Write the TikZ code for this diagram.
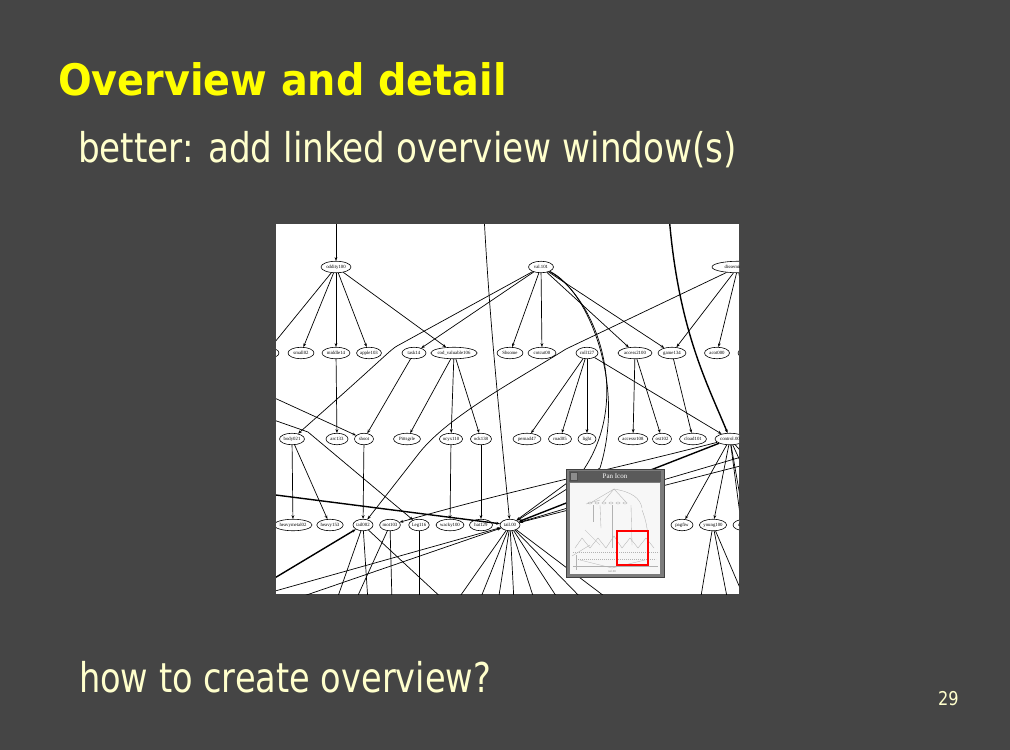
\documentclass[tikz,border=0pt]{standalone}
\usepackage{fontspec}
\setmainfont{DejaVu Sans}
\newfontfamily\gfont{Liberation Serif}
\usetikzlibrary{shapes.geometric,arrows.meta}
\definecolor{bg}{HTML}{454545}
\definecolor{ttl}{HTML}{FFFF00}
\definecolor{bodytxt}{HTML}{FFFFCC}
\definecolor{frame}{HTML}{7C7C7C}
\definecolor{tbar}{HTML}{5A5A5A}
\begin{document}
\begin{tikzpicture}[x=1pt,y=-1pt,
  txt/.style={anchor=base west, inner sep=0pt, outer sep=0pt},
  gn/.style={ellipse, draw, line width=0.6pt, minimum height=11.5pt, inner sep=0pt, fill=white,
             font=\gfont\fontsize{4.8}{5}\selectfont},
  e/.style={draw, line width=0.7pt, -{Stealth[length=3.8pt,width=2.8pt]}},
  ethick/.style={e, line width=1.4pt},
  mini/.style={draw=black!30, line width=0.35pt}]
\fill[bg] (0,0) rectangle (1010,750);
\useasboundingbox (0,0) rectangle (1010,750);

% texts
\node[txt, text=ttl] (title) at (58,95)
  {\scalebox{0.915}[1]{\fontsize{43.4}{50}\selectfont\bfseries Overview and detail}};
\node[txt, text=bodytxt] (sub) at (78,162)
  {\scalebox{0.835}[1]{\fontsize{41}{48}\selectfont better: add linked overview window(s)}};
\node[txt, text=bodytxt] (how) at (79,692)
  {\scalebox{0.82}[1]{\fontsize{41}{48}\selectfont how to create overview?}};
\node[txt, text=bodytxt] (pg) at (938,705)
  {\scalebox{0.85}[1]{\fontsize{19}{22}\selectfont 29}};

% graph picture
\fill[white] (276,224) rectangle (739,594);
\begin{scope}
\clip (276,224) rectangle (739,594);
% row 1
\node[gn, minimum width=30] (odd) at (336,267) {oddity100};
\node[gn, minimum width=25] (vol) at (541,267) {val.101};
\node[gn, minimum width=52] (dis) at (738,267) {dissemination};
% row 2
\node[gn, minimum width=26] (b0) at (266,353) {task112};
\node[gn, minimum width=26] (b1) at (301,353) {small02};
\node[gn, minimum width=28] (b2) at (336,353) {middle14};
\node[gn, minimum width=24] (b3) at (369,353) {apple103};
\node[gn, minimum width=24] (b4) at (414,353) {task14};
\node[gn, minimum width=41] (b5) at (454,353) {cod\_valuable106};
\node[gn, minimum width=26] (b6) at (510,353) {Shsome};
\node[gn, minimum width=28] (b7) at (542,353) {cotcut00};
\node[gn, minimum width=22] (b8) at (587,353) {coll127};
\node[gn, minimum width=34] (b9) at (635,353) {access2100};
\node[gn, minimum width=28] (b10) at (672,353) {game134};
\node[gn, minimum width=25] (b11) at (717,353) {acot000};
\node[gn, minimum width=26] (b12) at (751,353) {aaa12};
% row 3
\node[gn, minimum width=25] (c1) at (292,439) {body021};
\node[gn, minimum width=22] (c2) at (337,439) {arc133};
\node[gn, minimum width=19] (c3) at (364,439) {shoot};
\node[gn, minimum width=27] (c4) at (407,439) {Pittsgrle};
\node[gn, minimum width=22] (c5) at (451,439) {ocyx110};
\node[gn, minimum width=21] (c6) at (481,439) {ock138};
\node[gn, minimum width=28] (c7) at (527,439) {pernad47};
\node[gn, minimum width=23] (c8) at (560,439) {road05};
\node[gn, minimum width=18] (c9) at (587,439) {light};
\node[gn, minimum width=28] (c10) at (633,439) {accessr108};
\node[gn, minimum width=19] (c11) at (662,439) {ost102};
\node[gn, minimum width=27] (c12) at (693,439) {cload101};
\node[gn, minimum width=30] (c13) at (730,439) {control.00};
% row 4
\node[gn, minimum width=31] (d1) at (293,525) {heavymetal02};
\node[gn, minimum width=25] (d2) at (330,525) {heavy153};
\node[gn, minimum width=20] (d3) at (363,525) {tail002};
\node[gn, minimum width=20] (d4) at (390,525) {mot103};
\node[gn, minimum width=20] (d5) at (419,525) {Leg116};
\node[gn, minimum width=25] (d6) at (450,525) {wacky100};
\node[gn, minimum width=23] (d7) at (481,525) {hat129};
\node[gn, minimum width=20] (d8) at (510,525) {tail.00};
\node[gn, minimum width=22] (d9) at (682,525) {pagfiw};
\node[gn, minimum width=27] (d10) at (713,525) {young100};
\node[gn, minimum width=24] (d11) at (745,525) {drop14};

% free ends
\coordinate (t1) at (336,215);
\coordinate (t2) at (669,215);
\coordinate (t3) at (484,215);
\coordinate (l1) at (268,395);
\coordinate (l2) at (268,418);
\coordinate (l3) at (268,494);
\coordinate (l4) at (268,582);
\coordinate (l5) at (268,593);
\coordinate (l6) at (292,600);
\coordinate (r1) at (765,478);
\coordinate (r2) at (765,515);
\coordinate (r3) at (752,605);
\coordinate (r4) at (748,455);
\coordinate (r5) at (748,464);
\coordinate (r6) at (748,445);
\foreach \x in {336,368,446}{\coordinate (p3-\x) at (\x,602);}
\foreach \x in {355,392}{\coordinate (p4-\x) at (\x,602);}
\coordinate (p5) at (419,602);
\foreach \x in {456,479,498,514,535,560,585,612}{\coordinate (p8-\x) at (\x,602);}
\foreach \x in {700,728,746}{\coordinate (pc-\x) at (\x,602);}

% edges
\draw[e] (t1) -- (odd);
\draw[e] (odd) -- (b0);
\draw[e] (odd) -- (b1);
\draw[e] (odd) -- (b2);
\draw[e] (odd) -- (b3);
\draw[e] (odd) -- (b5);
\draw[e] (vol) -- (b4);
\draw[e] (vol) -- (b6);
\draw[e] (vol) -- (b7);
\draw[e] (vol) -- (b9);
\draw[e] (vol) -- (b10);
\draw[e] (vol) -- (397,346) .. controls (390,350) and (386,356) .. (c1);
\draw[e] (dis) -- (b10);
\draw[e] (dis) -- (b11);
\draw[e] (dis) -- (b12);
\draw[e] (dis) -- (566,349) .. controls (520,378) and (450,415) .. (420,452) -- (d3);
\draw[e] (b5) -- (c4);
\draw[e] (b5) -- (c5);
\draw[e] (b5) -- (c6);
\draw[e] (b4) -- (c3);
\draw[e] (b2) -- (c2);
\draw[e] (l1) -- (c3);
\draw[e] (l2) -- (308,432) -- (d5);
\draw[e] (c1) -- (d1);
\draw[e] (c1) -- (d2);
\draw[e] (c3) -- (d3);
\draw[e] (c5) -- (d6);
\draw[e] (c6) -- (d7);
\draw[e] (b8) -- (c7);
\draw[e] (b8) -- (c8);
\draw[e] (b8) -- (c9);
\draw[e] (b9) -- (c10);
\draw[e] (b9) -- (c11);
\draw[e] (b10) -- (c12);
\draw[e] (b8) -- (c13);
\draw[ethick] (t2) .. controls (678,330) and (708,385) .. (c13);
\draw[e] (t3) .. controls (490,330) and (502,440) .. (d8);
\draw[e] (vol) .. controls (595,296) and (634,398) .. (582,472) -- (d8);
\draw[e] (vol) .. controls (588,290) and (626,384) .. (600,468) -- (d8);
\draw[e] (c13) -- (d9);
\draw[e] (c13) -- (d10);
\draw[e] (c13) -- (d11);
\draw[e] (c13) -- (r1);
\draw[e] (c13) -- (r2);
\draw[e] (c13) -- (r3);
\draw[ethick] (c13) -- (d8);
\draw[e] (r4) -- (d8);
\draw[e] (r5) -- (d8);
\draw[e] (r6) -- (c13);
\draw[e] (c13) .. controls (610,470) and (520,488) .. (d4);
\draw[ethick] (l3) -- (d8);
\draw[ethick] (l4) -- (d3);
\draw[e] (l5) -- (d8);
\draw[e] (l6) -- (d8);
\foreach \x in {336,368,446}{\draw[e] (d3) -- (p3-\x);}
\foreach \x in {355,392}{\draw[e] (d4) -- (p4-\x);}
\draw[e] (d5) -- (p5);
\foreach \x in {456,479,498,514,535,560,585,612}{\draw[e] (d8) -- (p8-\x);}
\foreach \x in {700,728,746}{\draw[e] (d10) -- (pc-\x);}
\end{scope}

% Pan Icon window
\filldraw[fill=frame, draw=black!75, line width=0.8pt] (566,469) rectangle (664,577);
\fill[tbar] (569,471) rectangle (661,482);
\filldraw[fill=black!45, draw=black!70, line width=0.4pt] (570.5,472.5) rectangle (577.5,480.5);
\node[inner sep=0pt, text=white, font=\gfont\fontsize{7}{8}\selectfont] (pantitle) at (615,476.5) {Pan Icon};
\fill[black!3] (570,483) rectangle (660,574);
% miniature overview
\begin{scope}
\clip (570,483) rectangle (660,574);
\draw[mini] (614,489) -- (592,502);
\draw[mini] (614,489) -- (603,502);
\draw[mini] (614,489) -- (626,502);
\draw[mini] (614,489) .. controls (632,492) and (640,498) .. (642,508);
\draw[mini] (586,504) -- (600,500);
\foreach \x in {590,597,604,611,618,625}{\draw[mini] (\x,503) ellipse (2.2pt and 1pt);}
\draw[mini] (593,505) -- (593,522);
\draw[mini] (612,505) -- (612,548);
\draw[mini] (631,505) -- (632,545);
\draw[mini] (642,510) .. controls (646,520) and (648,530) .. (648,542);
\draw[mini] (600,505) -- (601,528);
\draw[mini] (575,548) -- (582,538) -- (590,548) -- (598,538) -- (606,548) -- (614,536) -- (622,548) -- (630,538) -- (638,548) -- (646,538) -- (654,548);
\draw[mini, dash pattern=on 1.2pt off 0.8pt] (573,552) -- (659,552);
\draw[mini, dash pattern=on 1.2pt off 0.8pt] (578,559) -- (656,559);
\draw[mini] (580,560) -- (612,568);
\draw[mini] (645,560) -- (612,568);
\draw[mini] (572,556) -- (590,545);
\draw[mini] (573,566) -- (658,566);
\draw[mini] (576,555) -- (576,570);
\draw[mini] (585,530) -- (600,545);
\node[inner sep=0pt, text=black!45, font=\gfont\fontsize{3}{3}\selectfont] (minilabel) at (612,571.5) {tail.00};
\end{scope}
\draw[red, line width=2pt] (617,531) rectangle (648,565);
\end{tikzpicture}
\end{document}
